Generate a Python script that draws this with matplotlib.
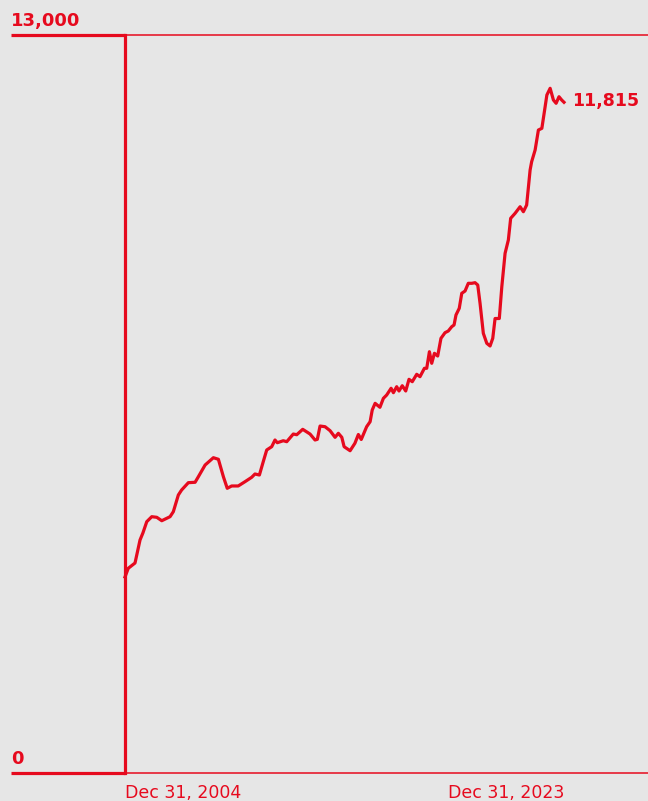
import matplotlib.pyplot as plt
import matplotlib.transforms as mtransforms

RED = "#e60a1e"
BG = "#e6e6e6"

# months since Dec 31, 2004 and growth value
months = [0, 1.7, 5.2, 7.8, 9.3, 11.3, 13.9, 16.5, 19.1, 23.4, 25.1, 27.7, 29.4,
          32.9, 36.4, 38.1, 41.6, 45.9, 48.5, 51.1, 53.1, 55.4, 58.8, 62.3, 65.8,
          67.5, 69.8, 71.8, 73.6, 76.2, 77.9, 79.1, 82.2, 84.0, 87.4, 89.2, 92.3,
          96.1, 98.7, 99.9, 101.3, 103.9, 106.5, 109.1, 110.8, 112.6, 113.8, 116.9,
          119.4, 121.2, 122.7, 125.5, 127.3, 128.4, 129.9, 132.4, 134.2, 135.9,
          138.2, 139.4, 141.1, 142.3, 144.0, 145.8, 147.5, 149.2, 151.5, 153.2,
          155.5, 156.7, 158.1, 159.3, 160.7, 162.4, 164.1, 166.2, 167.9, 169.7,
          170.9, 171.9, 173.6, 174.9, 176.6, 178.3, 180.1, 181.8, 183.2, 184.4,
          186.1, 187.9, 189.6, 191.0, 192.2, 194.4, 195.7, 197.4, 199.1, 200.3,
          202.6, 205.2, 206.9, 208.6, 210.4, 211.2, 213.0, 214.7, 216.5, 218.2,
          219.1, 220.8, 222.5, 223.9, 225.4, 226.8, 228]
values = [3453, 3606, 3699, 4104, 4228, 4427, 4515, 4504, 4444, 4515, 4603, 4897,
          4985, 5114, 5121, 5219, 5425, 5554, 5526, 5219, 5015, 5056, 5056, 5131,
          5209, 5267, 5249, 5484, 5690, 5748, 5866, 5818, 5853, 5836, 5971, 5959,
          6054, 5971, 5866, 5878, 6112, 6100, 6030, 5913, 5984, 5913, 5748, 5677,
          5808, 5963, 5875, 6100, 6188, 6394, 6512, 6442, 6600, 6658, 6777, 6699,
          6805, 6729, 6822, 6729, 6935, 6893, 7023, 6981, 7129, 7129, 7421, 7217,
          7393, 7345, 7657, 7756, 7786, 7862, 7892, 8068, 8186, 8450, 8490, 8626,
          8626, 8637, 8596, 8274, 7745, 7569, 7522, 7657, 8006, 8006, 8566, 9155,
          9389, 9771, 9859, 9975, 9887, 10005, 10622, 10768, 10974, 11326, 11356,
          11737, 11943, 12061, 11855, 11797, 11913, 11855, 11815]

Y_MAX = 13000
start_label = "Dec 31, 2004"
end_label = "Dec 31, 2023"
last_label = "11,815"

W, H = 648, 801
fig = plt.figure(figsize=(W / 100, H / 100), dpi=100, facecolor=BG)
ax = fig.add_axes([125 / W, (H - 773) / H, (W - 125) / W, (773 - 35) / H])
ax.set_facecolor(BG)
ax.set_xlim(0, (W - 125) / (439 / 228))
ax.set_ylim(0, Y_MAX)
for s in ax.spines.values():
    s.set_visible(False)
ax.set_xticks([]); ax.set_yticks([])

ax.plot(months, values, color=RED, lw=2.3, solid_joinstyle="round", clip_on=False)

# frame: thin gridlines + thick left bracket
ax.axhline(Y_MAX, color=RED, lw=1.1, clip_on=False)
ax.axhline(0, color=RED, lw=1.1, clip_on=False)
ax.axvline(0, color=RED, lw=2.3, clip_on=False)
tr = mtransforms.blended_transform_factory(ax.transAxes, ax.transData)
left = -(125 - 11) / (W - 125)
for yv in (0, Y_MAX):
    ax.plot([left, 0], [yv, yv], color=RED, lw=2.3, transform=tr,
            clip_on=False, solid_capstyle="butt")

ax.text(left, Y_MAX + 90, "13,000", transform=tr, color=RED, fontsize=13,
        weight="bold", ha="left", va="bottom")
ax.text(left, 80, "0", transform=tr, color=RED, fontsize=13,
        weight="bold", ha="left", va="bottom")

ax.annotate(last_label, (months[-1], values[-1]), xytext=(6, 1),
            textcoords="offset points", color=RED, fontsize=12.5,
            weight="bold", ha="left", va="center")

ax.text(months[0], -190, start_label, color=RED, fontsize=12.5,
        ha="left", va="top")
ax.text(months[-1], -190, end_label, color=RED, fontsize=12.5,
        ha="right", va="top")

fig.savefig("out.png", dpi=100, facecolor=BG)
